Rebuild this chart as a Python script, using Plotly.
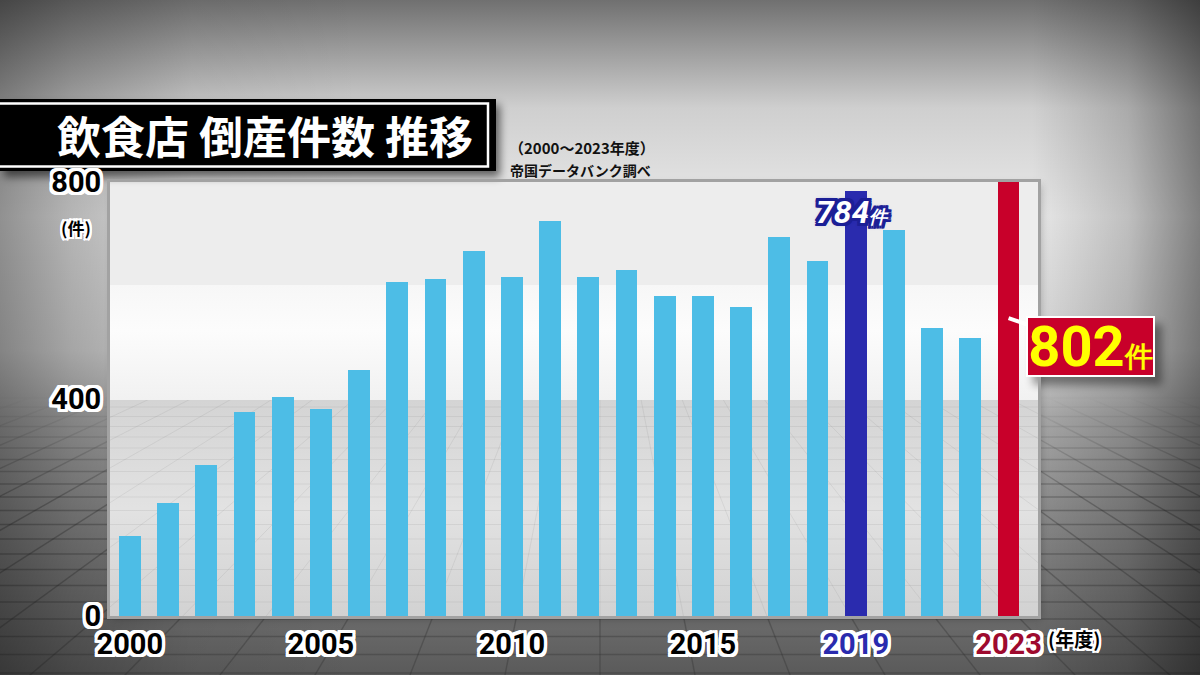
import base64
import plotly.graph_objects as go

# ---------------- data ----------------
years = list(range(2000, 2024))
counts = [148, 208, 279, 376, 403, 381, 454, 616, 622, 673, 625, 729,
          625, 637, 590, 590, 569, 699, 655, 784, 712, 531, 512, 802]
tick_years = [2000, 2005, 2010, 2015, 2019, 2023]
tick_labels = ["2000", "2005", "2010", "2015", "2019", "2023"]
y_ticks = [0, 400, 800]
highlight_2019 = 2019
highlight_2023 = 2023

BASE = "#4dbde6"
BLUE = "#2a2bae"
RED = "#c8002a"

colors = [BLUE if y == highlight_2019 else RED if y == highlight_2023 else BASE for y in years]

# ---------------- geometry helpers (pixel -> paper) ----------------
W, H = 1200, 675
L, R, T, B = 110, 162, 182, 59
PW, PH = W - L - R, H - T - B


def px(x):
    return (x - L) / PW


def py(y):
    return (H - B - y) / PH


# ---------------- background (decorative SVG) ----------------
lines = []
vpx, vpy = 600, 190
for k in range(-45, 46):
    dx = k * 95
    lines.append(f'<line x1="{vpx}" y1="{vpy}" x2="{vpx + dx * 4}" y2="{vpy + 485 * 4}"/>')
yy, dy = 398.0, 9.0
while yy < H + 5:
    lines.append(f'<line x1="0" y1="{yy:.1f}" x2="{W}" y2="{yy:.1f}"/>')
    yy += dy
    dy += 0.5
grid = "".join(lines)

svg = f'''<svg xmlns="http://www.w3.org/2000/svg" width="{W}" height="{H}" viewBox="0 0 {W} {H}">
<defs>
 <linearGradient id="v" x1="0" y1="0" x2="0" y2="1">
  <stop offset="0" stop-color="#707070"/>
  <stop offset="0.07" stop-color="#9a9a9a"/>
  <stop offset="0.16" stop-color="#cfcfcf"/>
  <stop offset="0.32" stop-color="#e9e9e9"/>
  <stop offset="0.52" stop-color="#d4d4d4"/>
  <stop offset="0.62" stop-color="#aaaaaa"/>
  <stop offset="0.8" stop-color="#838383"/>
  <stop offset="1" stop-color="#5a5a5a"/>
 </linearGradient>
 <linearGradient id="h" x1="0" y1="0" x2="1" y2="0">
  <stop offset="0" stop-color="#000" stop-opacity="0.38"/>
  <stop offset="0.06" stop-color="#000" stop-opacity="0.22"/>
  <stop offset="0.16" stop-color="#000" stop-opacity="0.05"/>
  <stop offset="0.3" stop-color="#000" stop-opacity="0"/>
  <stop offset="0.86" stop-color="#000" stop-opacity="0"/>
  <stop offset="0.94" stop-color="#000" stop-opacity="0.18"/>
  <stop offset="1" stop-color="#000" stop-opacity="0.45"/>
 </linearGradient>
 <linearGradient id="mid" x1="0" y1="0" x2="0" y2="1">
  <stop offset="0" stop-color="#f7f7f7"/>
  <stop offset="0.4" stop-color="#fcfcfc"/>
  <stop offset="1" stop-color="#f1f1f1"/>
 </linearGradient>
 <linearGradient id="fl" x1="0" y1="0" x2="0" y2="1">
  <stop offset="0" stop-color="#d4d4d4"/>
  <stop offset="0.5" stop-color="#e2e2e2"/>
  <stop offset="1" stop-color="#d2d2d2"/>
 </linearGradient>
 <linearGradient id="fade" x1="0" y1="0" x2="0" y2="1" gradientUnits="userSpaceOnUse" x2u="0">
  <stop offset="0" stop-color="#fff" stop-opacity="0"/>
 </linearGradient>
 <linearGradient id="fadeg" gradientUnits="userSpaceOnUse" x1="0" y1="395" x2="0" y2="500">
  <stop offset="0" stop-color="#fff" stop-opacity="0"/>
  <stop offset="1" stop-color="#fff" stop-opacity="1"/>
 </linearGradient>
 <mask id="fmask"><rect x="0" y="395" width="{W}" height="{H}" fill="url(#fadeg)"/></mask>
 <clipPath id="pfloor"><rect x="{L}" y="400" width="{PW}" height="{H - B - 400}"/></clipPath>
 <filter id="blur" x="-20%" y="-20%" width="140%" height="140%"><feGaussianBlur stdDeviation="4"/></filter>
</defs>
<rect width="{W}" height="{H}" fill="url(#v)"/>
<g mask="url(#fmask)" stroke="#2e2e2e" stroke-opacity="0.34" stroke-width="1.4">{grid}</g>
<rect width="{W}" height="{H}" fill="url(#h)"/>
<rect x="{L + 3}" y="{T + 3}" width="{PW}" height="{PH}" fill="#000" opacity="0.25" filter="url(#blur)"/>
<rect x="{L}" y="{T}" width="{PW}" height="{285 - T}" fill="#ededed"/>
<rect x="{L}" y="285" width="{PW}" height="115" fill="url(#mid)"/>
<rect x="{L}" y="400" width="{PW}" height="{H - B - 400}" fill="url(#fl)"/>
<g clip-path="url(#pfloor)" stroke="#707070" stroke-opacity="0.12" stroke-width="1">{grid}</g>
<rect x="4" y="105" width="496" height="72" fill="#000" opacity="0.55" filter="url(#blur)"/>
<rect x="-5" y="99" width="501" height="72" fill="#000"/>
<rect x="-5" y="103.5" width="493" height="63" fill="none" stroke="#fff" stroke-width="2.5"/>
<rect x="1033" y="324" width="129" height="61" fill="#000" opacity="0.4" filter="url(#blur)"/>
</svg>'''
bg_uri = "data:image/svg+xml;base64," + base64.b64encode(svg.encode("utf-8")).decode("ascii")


def outline(color, w=3):
    parts = []
    for ox, oy in [(-w, -w), (w, -w), (-w, w), (w, w), (0, w), (w, 0), (0, -w), (-w, 0),
                   (-2, -w), (2, -w), (-2, w), (2, w), (w, -2), (w, 2), (-w, -2), (-w, 2)]:
        parts.append(f"{ox}px {oy}px 0 {color}")
    return ", ".join(parts)


WHITE_OUT = outline("#ffffff", 3)
WHITE_OUT_S = outline("#ffffff", 2)
BLUE_OUT = outline("#1c1f96", 3) + ", 0 0 5px #1c1f96"

fig = go.Figure()
fig.add_trace(go.Bar(
    x=years, y=counts, width=0.57,
    marker=dict(color=colors, line=dict(width=0)),
    cliponaxis=False, hoverinfo="x+y", showlegend=False,
))

ticktext = []
for lab, yr in zip(tick_labels, tick_years):
    if yr == highlight_2019:
        ticktext.append(f"<span style='color:{BLUE}'>{lab}</span>")
    elif yr == highlight_2023:
        ticktext.append(f"<span style='color:#9e0a2e'>{lab}</span>")
    else:
        ticktext.append(lab)

num_font = dict(family="Roboto, Arial, sans-serif", size=29, color="#000", weight="bold", shadow=WHITE_OUT)

fig.update_xaxes(
    range=[1999.48, 2023.77], tickmode="array", tickvals=tick_years, ticktext=ticktext,
    tickfont=num_font, ticks="", showgrid=False, zeroline=False,
    showline=True, mirror=True, linecolor="#a2a2a2", linewidth=3, layer="below traces",
    fixedrange=True,
)
fig.update_yaxes(
    range=[0, 800], tickmode="array", tickvals=y_ticks, tickfont=num_font,
    ticks="", showgrid=False, zeroline=False,
    showline=True, mirror=True, linecolor="#a2a2a2", linewidth=3, layer="below traces",
    fixedrange=True,
)

cjk = "Noto Sans CJK JP, sans-serif"
annotations = [
    dict(text="飲食店 倒産件数 推移", x=px(55), y=py(135), xref="paper", yref="paper",
         xanchor="left", yanchor="middle", showarrow=False,
         font=dict(family=cjk, size=44, color="#ffffff", weight="bold")),
    dict(text="（2000～2023年度）", x=px(582), y=py(147), xref="paper", yref="paper",
         xanchor="center", yanchor="middle", showarrow=False,
         font=dict(family=cjk, size=15, color="#111111", weight="bold")),
    dict(text="帝国データバンク調べ", x=px(580), y=py(170), xref="paper", yref="paper",
         xanchor="center", yanchor="middle", showarrow=False,
         font=dict(family=cjk, size=14, color="#111111", weight="bold")),
    dict(text="(件)", x=px(76), y=py(227), xref="paper", yref="paper",
         xanchor="center", yanchor="middle", showarrow=False,
         font=dict(family=cjk, size=17, color="#000000", weight="bold", shadow=WHITE_OUT_S)),
    dict(text="(年度)", x=px(1046), y=py(638), xref="paper", yref="paper",
         xanchor="left", yanchor="middle", showarrow=False,
         font=dict(family=cjk, size=19, color="#000000", weight="bold", shadow=WHITE_OUT_S)),
    dict(text=f"{counts[years.index(highlight_2019)]}<span style='font-size:18px'>件</span>",
         x=highlight_2019, y=counts[years.index(highlight_2019)], xref="x", yref="y",
         xanchor="center", yanchor="middle", yshift=-21, xshift=-3, showarrow=False,
         font=dict(family="Roboto, Arial, sans-serif", size=32, color="#ffffff",
                   weight="bold", style="italic", shadow=BLUE_OUT)),
    dict(text=f"{counts[years.index(highlight_2023)]}<span style='font-size:28px'>件</span>",
         x=highlight_2023, y=549, xref="x", yref="y",
         showarrow=True, arrowhead=0, arrowwidth=4, arrowcolor="#ffffff", ax=82, ay=28,
         standoff=0,
         bgcolor=RED, bordercolor="#ffffff", borderwidth=2, borderpad=0,
         width=125, height=57,
         font=dict(family="Roboto, Arial, sans-serif", size=56, color="#ffff00", weight="bold")),
]

fig.update_layout(
    width=W, height=H, autosize=False,
    margin=dict(l=L, r=R, t=T, b=B, pad=0),
    paper_bgcolor="#8a8a8a", plot_bgcolor="rgba(0,0,0,0)",
    annotations=annotations,
    images=[dict(source=bg_uri, xref="paper", yref="paper", x=px(0), y=py(0),
                 sizex=W / PW, sizey=H / PH, xanchor="left", yanchor="top",
                 sizing="stretch", layer="below")],
    bargap=0,
)

fig.write_html("out.html")
